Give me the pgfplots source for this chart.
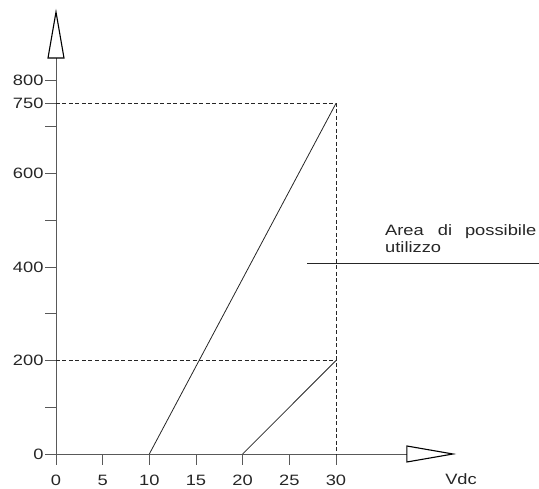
\documentclass[border=0pt]{standalone}
\usepackage{fontspec}
\setmainfont{Liberation Sans}[FakeStretch=1.22]
\usepackage{pgfplots}
\pgfplotsset{compat=1.18}
\begin{document}
\begin{tikzpicture}
\begin{axis}[
  x=9.333pt, y=0.4675pt,
  anchor=origin, at={(0pt,0pt)},
  xmin=0, xmax=37.6, ymin=0, ymax=847,
  axis lines=left,
  axis line style={-, black!65, line width=0.9pt},
  clip=false,
  tick align=outside,
  major tick length=11pt,
  tick style={black!65, line width=0.9pt},
  xtick={0,5,...,30},
  ytick={0,200,400,600,750,800},
  extra y ticks={100,300,500,700},
  extra y tick labels={},
  /pgf/number format/assume math mode=true,
  ticklabel style={font=\fontsize{15}{17}\selectfont, text=black!85},
  xticklabel style={yshift=-6.5pt},
  yticklabel style={xshift=2pt},
]
\addplot[black!85, line width=0.8pt] coordinates {(10,0) (30,750)};
\addplot[black!85, line width=0.8pt] coordinates {(20,0) (30,200)};
\addplot[black!85, line width=0.8pt, dash pattern=on 4pt off 2.5pt] coordinates {(0,750) (30,750) (30,0)};
\addplot[black!85, line width=0.8pt, dash pattern=on 4pt off 2.5pt] coordinates {(0,200) (30,200)};
\draw[black!85, line width=0.8pt] (axis cs:26.9,408.6) -- (axis cs:51.75,408.6);
\draw[black, line width=1.1pt] (axis cs:37.6,0) -- (axis cs:37.6,17.1) -- (axis cs:42.54,0) -- (axis cs:37.6,-17.1) -- cycle;
\draw[black, line width=1.1pt] (axis cs:0,847) -- (axis cs:-0.857,847) -- (axis cs:0,945.5) -- (axis cs:0.857,847) -- cycle;
\node[anchor=base west, inner sep=0pt, font=\fontsize{15}{17}\selectfont, text=black!85] at (axis cs:35.25,468.4) {Area\hspace{14pt}di\hspace{13pt}possibile};
\node[anchor=base west, inner sep=0pt, font=\fontsize{15}{17}\selectfont, text=black!85] at (axis cs:35.25,432) {utilizzo};
\node[anchor=base, inner sep=0pt, font=\fontsize{15}{17}\selectfont, text=black!85] at (axis cs:43.4,-66.3) {Vdc};
\end{axis}
\pgfresetboundingbox
\useasboundingbox (-56pt,-35pt) rectangle (483pt,454pt);
\end{tikzpicture}
\end{document}
